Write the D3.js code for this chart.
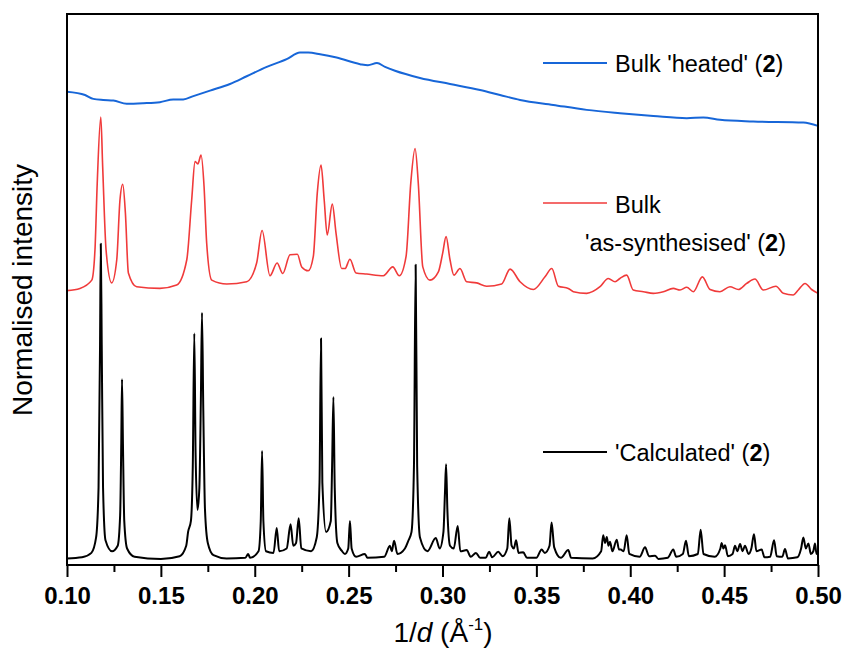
<!DOCTYPE html>
<html>
<head>
<meta charset="utf-8">
<script src="https://cdn.jsdelivr.net/npm/d3@7"></script>
<style>
  body { margin: 0; background: #fff; }
  text { font-family: Arial, "Liberation Sans", sans-serif; }
</style>
</head>
<body>
<div id="pxrd"></div>
<script>
// tick labels on the 1/d axis
var xTicks = [0.10, 0.15, 0.20, 0.25, 0.30, 0.35, 0.40, 0.45, 0.50];
var xMinorTicks = [0.125, 0.175, 0.225, 0.275, 0.325, 0.375, 0.425, 0.475];

// legend names, top to bottom
var seriesNames = ["Bulk 'heated' (2)", "Bulk 'as-synthesised' (2)", "'Calculated' (2)"];

// [1/d, normalised intensity] (stacked, a.u.)
var heatedPattern = [
  [0.1000,85.9],[0.1096,85.3],[0.1140,84.6],[0.1193,84.4],[0.1247,84.3],[0.1318,83.7],
  [0.1406,83.8],[0.1495,84.0],[0.1566,84.5],[0.1619,84.5],[0.1673,85.1],[0.1762,86.1],
  [0.1868,87.3],[0.1957,88.7],[0.2064,90.4],[0.2170,91.8],[0.2241,93.0],[0.2285,93.0],
  [0.2348,92.7],[0.2436,92.1],[0.2561,90.9],[0.2603,90.7],[0.2651,91.1],[0.2694,90.4],
  [0.2747,89.7],[0.2880,88.4],[0.3040,87.3],[0.3200,86.2],[0.3306,85.3],[0.3413,84.4],
  [0.3590,83.5],[0.3768,82.6],[0.3945,82.0],[0.4123,81.5],[0.4301,81.1],[0.4389,81.2],
  [0.4478,80.8],[0.4655,80.5],[0.4922,80.3],[0.5000,79.7]
];

var asSynthPattern = [
  [0.1000,49.8],[0.1069,50.2],[0.1132,51.7],[0.1149,57.2],[0.1161,69.3],[0.1180,81.3],
  [0.1190,72.3],[0.1208,57.2],[0.1238,51.2],[0.1265,55.4],[0.1282,66.2],[0.1297,69.1],
  [0.1311,63.9],[0.1327,53.0],[0.1371,50.5],[0.1495,50.2],[0.1584,50.8],[0.1638,55.4],
  [0.1664,66.2],[0.1682,73.2],[0.1697,72.8],[0.1714,74.4],[0.1730,68.7],[0.1744,58.4],
  [0.1771,51.7],[0.1851,51.0],[0.1957,51.4],[0.2010,54.8],[0.2039,60.7],[0.2081,52.5],
  [0.2119,54.8],[0.2149,52.9],[0.2188,56.3],[0.2227,56.4],[0.2250,54.1],[0.2285,53.4],
  [0.2312,56.0],[0.2333,67.5],[0.2353,72.6],[0.2370,66.2],[0.2386,59.9],[0.2413,65.5],
  [0.2433,60.2],[0.2463,53.8],[0.2481,53.8],[0.2507,55.5],[0.2539,53.0],[0.2596,52.8],
  [0.2685,52.5],[0.2735,54.1],[0.2770,52.5],[0.2806,56.0],[0.2831,69.3],[0.2854,75.6],
  [0.2871,69.3],[0.2895,54.1],[0.2933,51.7],[0.2978,53.2],[0.3001,56.6],[0.3019,59.6],
  [0.3040,55.4],[0.3061,52.6],[0.3093,53.8],[0.3129,51.4],[0.3182,51.2],[0.3235,50.6],
  [0.3315,51.0],[0.3360,53.7],[0.3413,51.4],[0.3484,50.0],[0.3546,52.3],[0.3582,53.8],
  [0.3617,50.6],[0.3670,50.2],[0.3697,49.6],[0.3768,49.3],[0.3839,50.5],[0.3883,52.0],
  [0.3919,51.4],[0.3945,52.0],[0.3981,52.6],[0.4016,49.9],[0.4070,49.6],[0.4123,49.3],
  [0.4176,49.6],[0.4229,50.2],[0.4265,49.9],[0.4301,50.4],[0.4336,49.6],[0.4384,52.3],
  [0.4425,50.0],[0.4478,49.6],[0.4531,50.5],[0.4576,50.0],[0.4620,51.1],[0.4664,51.9],
  [0.4709,49.9],[0.4776,50.6],[0.4815,49.3],[0.4868,49.0],[0.4895,49.9],[0.4931,51.1],
  [0.4966,50.0],[0.5000,49.3]
];

var calcPattern = [
  [0.1000,1.2],[0.1080,1.4],[0.1130,2.2],[0.1155,5],[0.1168,14],[0.1176,40],[0.1180,58.3],
  [0.1185,40],[0.1192,14],[0.1205,4.5],[0.1240,2.5],[0.1270,3.5],[0.1283,9],[0.1289,22],
  [0.1293,33.7],[0.1298,22],[0.1305,8],[0.1320,3],[0.1360,1.5],[0.1500,1.1],[0.1600,1.6],
  [0.1635,3.5],[0.1645,6],[0.1660,8],[0.1670,18],[0.1678,42],[0.1685,20],[0.1695,10],
  [0.1705,14],[0.1713,30],[0.1719,45.8],[0.1726,28],[0.1735,10],[0.1750,4],[0.1780,1.8],
  [0.1850,1.2],[0.1950,1.3],[0.1965,2.0],[0.1975,1.3],[0.2020,2.5],[0.2032,8],[0.2039,20.7],
  [0.2046,8],[0.2060,2.5],[0.2100,2.2],[0.2117,6.7],[0.2130,2.5],[0.2170,3],[0.2191,7.4],
  [0.2205,3.5],[0.2220,4],[0.2234,8.5],[0.2248,3],[0.2300,2.5],[0.2330,5],[0.2345,15],
  [0.2353,41.1],[0.2360,15],[0.2380,6],[0.2405,8],[0.2412,18],[0.2419,30.5],[0.2426,14],
  [0.2440,4],[0.2463,2.6],[0.2480,2.0],[0.2498,3],[0.2507,8],[0.2516,3],[0.2540,1.5],
  [0.2587,2.0],[0.2600,1.3],[0.2690,1.5],[0.2720,3.5],[0.2730,2.5],[0.2742,4.4],[0.2760,2],
  [0.2800,3],[0.2818,4.4],[0.2835,6],[0.2848,18],[0.2857,54.5],[0.2865,18],[0.2880,5],
  [0.2920,2.5],[0.2964,4.9],[0.2985,3],[0.3005,6],[0.3013,13],[0.3019,18.3],[0.3026,10],
  [0.3040,3.5],[0.3060,3],[0.3081,7.1],[0.3095,2.5],[0.3129,2.7],[0.3150,1.5],[0.3178,2.2],
  [0.3200,1.3],[0.3230,1.3],[0.3248,2.4],[0.3265,1.4],[0.3297,2.4],[0.3320,1.6],[0.3345,3],
  [0.3356,8.5],[0.3368,3.5],[0.3380,3],[0.3392,4.5],[0.3405,2.2],[0.3430,2.3],[0.3450,1.3],
  [0.3500,1.3],[0.3528,2.8],[0.3545,2.2],[0.3570,3.5],[0.3581,7.7],[0.3595,3.2],[0.3630,1.3],
  [0.3670,2.7],[0.3685,1.3],[0.3800,1.2],[0.3845,2.5],[0.3856,5.4],[0.3866,4],[0.3875,5.1],
  [0.3884,3.5],[0.3892,4.2],[0.3905,2.5],[0.3928,4.6],[0.3940,2.8],[0.3949,2.8],[0.3965,2.5],
  [0.3981,5.4],[0.3995,2],[0.4050,1.5],[0.4079,3.2],[0.4100,1.6],[0.4132,1.7],[0.4150,1.1],
  [0.4200,1.3],[0.4229,2.8],[0.4245,1.5],[0.4280,2.0],[0.4297,4.4],[0.4312,1.6],[0.4360,2],
  [0.4375,6.4],[0.4390,2.0],[0.4450,1.5],[0.4480,3],[0.4487,4],[0.4496,3],[0.4505,3.6],
  [0.4520,1.6],[0.4545,2],[0.4558,3.5],[0.4570,2.5],[0.4585,3.8],[0.4598,2.5],[0.4611,3.5],
  [0.4630,2],[0.4645,3],[0.4659,5.6],[0.4672,2.5],[0.4700,2.8],[0.4715,1.4],[0.4745,1.5],
  [0.4766,4.5],[0.4780,1.6],[0.4810,1.5],[0.4824,2.9],[0.4840,1.2],[0.4890,1.4],[0.4910,3],
  [0.4922,5.0],[0.4935,3],[0.4949,3.9],[0.4962,2],[0.4975,2.5],[0.4984,3.9],[0.4992,2],
  [0.5000,2.5]
];

var width = 842, height = 649;
// plot box edges (window.top is reserved, so no "top")
var plotLeft = 67, plotRight = 818, plotTop = 14, plotBottom = 565;

var svg = d3.select("#pxrd").append("svg")
  .attr("width", width)
  .attr("height", height);

var x = d3.scaleLinear().domain([0.10, 0.50]).range([plotLeft, plotRight]);
var y = d3.scaleLinear().domain([0, 100]).range([plotBottom, plotTop]);

var line = d3.line()
  .x(function(d) { return x(d[0]); })
  .y(function(d) { return y(d[1]); })
  .curve(d3.curveMonotoneX);

svg.append("path")
  .datum(heatedPattern)
  .attr("d", line)
  .attr("fill", "none")
  .attr("stroke", "#1766d8")
  .attr("stroke-width", 2);

svg.append("path")
  .datum(asSynthPattern)
  .attr("d", line)
  .attr("fill", "none")
  .attr("stroke", "#f03a3a")
  .attr("stroke-width", 1.6);

svg.append("path")
  .datum(calcPattern)
  .attr("d", line)
  .attr("fill", "none")
  .attr("stroke", "#000")
  .attr("stroke-width", 2)
  .attr("stroke-linejoin", "round");

// frame
svg.append("rect")
  .attr("x", plotLeft).attr("y", plotTop)
  .attr("width", plotRight - plotLeft).attr("height", plotBottom - plotTop)
  .attr("fill", "none")
  .attr("stroke", "#000")
  .attr("stroke-width", 2);

var xAxis = svg.append("g")
  .attr("transform", "translate(0," + plotBottom + ")")
  .call(d3.axisBottom(x).tickValues(xTicks).tickSize(12).tickPadding(10).tickFormat(d3.format(".2f")));
xAxis.select(".domain").remove();
xAxis.selectAll(".tick line").attr("stroke-width", 2);
xAxis.selectAll("text")
  .attr("font-size", "24px")
  .attr("font-weight", "bold")
  .attr("font-family", "Arial, 'Liberation Sans', sans-serif")
  .attr("fill", "#000");

var xMinor = svg.append("g")
  .attr("transform", "translate(0," + plotBottom + ")")
  .call(d3.axisBottom(x).tickValues(xMinorTicks).tickSize(7).tickFormat(""));
xMinor.select(".domain").remove();
xMinor.selectAll(".tick line").attr("stroke-width", 2);

// axis titles
var xTitle = svg.append("text")
  .attr("x", 443)
  .attr("y", 642)
  .attr("text-anchor", "middle")
  .attr("font-size", "28px");
xTitle.append("tspan").text("1/");
xTitle.append("tspan").attr("font-style", "italic").text("d");
xTitle.append("tspan").text(" (Å");
xTitle.append("tspan").attr("font-size", "17px").attr("dy", "-12").text("-1");
xTitle.append("tspan").attr("dy", "12").text(")");

svg.append("text")
  .attr("transform", "translate(32,290) rotate(-90)")
  .attr("text-anchor", "middle")
  .attr("font-size", "28px")
  .text("Normalised intensity");

// legend
var legendItems = [
  { color: "#1766d8", w: 2, ly: 63, lines: [[615, 72, seriesNames[0]]] },
  { color: "#f03a3a", w: 1.6, ly: 203, lines: [[615, 213, "Bulk"], [585, 251, seriesNames[1].replace("Bulk ", "")]] },
  { color: "#000", w: 2, ly: 452, lines: [[615, 461, seriesNames[2]]] }
];

legendItems.forEach(function(item) {
  svg.append("line")
    .attr("x1", 543).attr("x2", 607)
    .attr("y1", item.ly).attr("y2", item.ly)
    .attr("stroke", item.color)
    .attr("stroke-width", item.w);
  item.lines.forEach(function(l) {
    var t = svg.append("text")
      .attr("x", l[0]).attr("y", l[1])
      .attr("font-size", "23.5px");
    // the compound number "2" is bold
    var m = l[2].match(/^(.*\()2(\))$/);
    if (m) {
      t.append("tspan").text(m[1]);
      t.append("tspan").attr("font-weight", "bold").text("2");
      t.append("tspan").text(m[2]);
    } else {
      t.text(l[2]);
    }
  });
});
</script>
</body>
</html>
